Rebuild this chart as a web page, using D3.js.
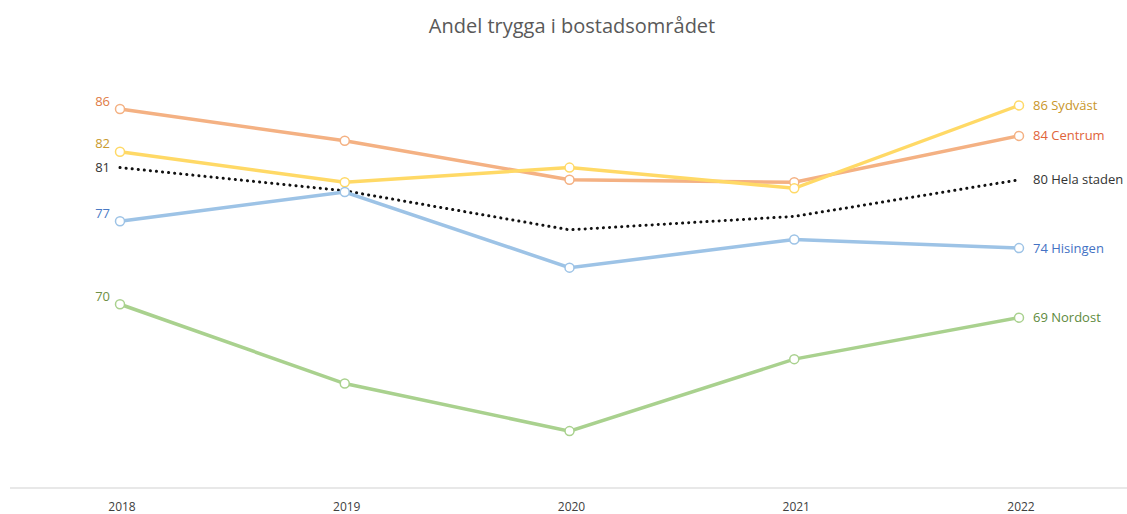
<!DOCTYPE html>
<html lang="sv">
<head>
<meta charset="utf-8">
<script src="https://d3js.org/d3.v7.min.js"></script>
<style>
  body { margin: 0; background: #fff; }
  text { font-family: "Open Sans", "Noto Sans", sans-serif; }
</style>
</head>
<body>
<script>
// data
var years = ["2018", "2019", "2020", "2021", "2022"];
var seriesNames = ["Centrum", "Sydväst", "Hela staden", "Hisingen", "Nordost"];
var centrum    = [85.8, 83.2, 80.0, 79.8, 83.6];
var sydvast    = [82.3, 79.8, 81.0, 79.3, 86.1];
var helaStaden = [81.0, 79.1, 75.9, 77.0, 80.0];
var hisingen   = [76.6, 79.0, 72.8, 75.1, 74.4];
var nordost    = [69.8, 63.3, 59.4, 65.3, 68.7];

var width = 1127, height = 514;
var lineColor  = ["#f4b183", "#ffd966", "#111111", "#9dc3e6", "#a9d18e"];
var textColor  = ["#e07b45", "#c99a2e", "#333333", "#4a7ac4", "#6f8f45"];
var rightColor = ["#e0643a", "#c9962a", "#333333", "#4472c4", "#5e8a3c"];

var table = [centrum, sydvast, helaStaden, hisingen, nordost].map(function(vals, i) {
  return { name: seriesNames[i], values: vals, i: i };
});

var svg = d3.select("body").append("svg")
    .attr("width", width)
    .attr("height", height);

var x = d3.scalePoint().domain(years).range([120, 1019]);
var y = d3.scaleLinear().domain([55, 90]).range([1155.8 - 12.2 * 55, 1155.8 - 12.2 * 90]);

svg.append("text")
    .attr("x", 572)
    .attr("y", 33)
    .attr("text-anchor", "middle")
    .attr("font-size", 20)
    .attr("fill", "#595959")
    .text("Andel trygga i bostadsområdet");

// baseline + year labels
svg.append("line")
    .attr("x1", 10).attr("x2", width)
    .attr("y1", 488).attr("y2", 488)
    .attr("stroke", "#e8e8e8")
    .attr("stroke-width", 2);

svg.selectAll(".year")
    .data(years)
    .enter().append("text")
    .attr("class", "year")
    .attr("x", function(d) { return x(d) + 2; })
    .attr("y", 511)
    .attr("text-anchor", "middle")
    .attr("font-size", 12)
    .attr("fill", "#404040")
    .text(function(d) { return d; });

var line = d3.line()
    .x(function(d, i) { return x(years[i]); })
    .y(function(d) { return y(d); });

var g = svg.selectAll(".series")
    .data(table)
    .enter().append("g")
    .attr("class", "series");

g.append("path")
    .attr("d", function(d) { return line(d.values); })
    .attr("fill", "none")
    .attr("stroke", function(d) { return lineColor[d.i]; })
    .attr("stroke-width", function(d) { return d.i == 2 ? 3 : 3.5; })
    .attr("stroke-linecap", function(d) { return d.i == 2 ? "round" : "butt"; })
    .attr("stroke-dasharray", function(d) { return d.i == 2 ? "0.1 6" : null; });

g.filter(function(d) { return d.i != 2; })
  .selectAll("circle")
    .data(function(d) { return d.values.map(function(v, j) { return { v: v, j: j, i: d.i }; }); })
    .enter().append("circle")
    .attr("cx", function(d) { return x(years[d.j]); })
    .attr("cy", function(d) { return y(d.v); })
    .attr("r", 4.5)
    .attr("fill", "#fff")
    .attr("stroke", function(d) { return lineColor[d.i]; })
    .attr("stroke-width", 1.5);

// left value labels
g.append("text")
    .attr("x", x(years[0]) - 10)
    .attr("y", function(d) { return y(d.values[0]) + (d.i == 2 ? 0 : -8); })
    .attr("dy", "0.35em")
    .attr("text-anchor", "end")
    .attr("font-size", 13)
    .attr("fill", function(d) { return textColor[d.i]; })
    .text(function(d) { return Math.round(d.values[0]); });

// right value + name labels
g.append("text")
    .attr("x", x(years[4]) + 14)
    .attr("y", function(d) { return y(d.values[4]); })
    .attr("dy", "0.35em")
    .attr("font-size", 13)
    .attr("fill", function(d) { return rightColor[d.i]; })
    .text(function(d) { return Math.round(d.values[4]) + " " + d.name; });
</script>
</body>
</html>
